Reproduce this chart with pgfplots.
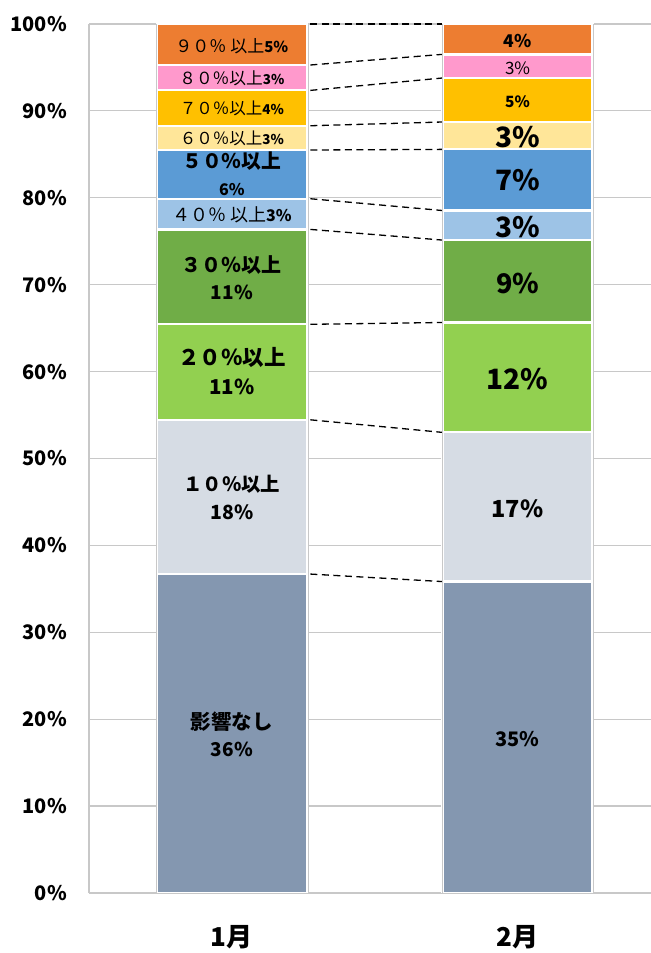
\documentclass[border=0pt]{standalone}
\usepackage{fontspec}
\setmainfont{Noto Sans CJK JP}
\usepackage{pgfplots}
\pgfplotsset{compat=1.18}
\newcommand\fs[1]{\fontsize{#1bp}{#1bp}\selectfont}
\definecolor{c0}{HTML}{8497B0}
\definecolor{c1}{HTML}{D6DCE4}
\definecolor{c2}{HTML}{92D050}
\definecolor{c3}{HTML}{70AD47}
\definecolor{c4}{HTML}{9DC3E6}
\definecolor{c5}{HTML}{5B9BD5}
\definecolor{c6}{HTML}{FFE699}
\definecolor{c7}{HTML}{FFC000}
\definecolor{c8}{HTML}{FF99CC}
\definecolor{c9}{HTML}{ED7D31}
\definecolor{gridc}{HTML}{C8C8C8}
\begin{document}
\begin{tikzpicture}
\useasboundingbox (0,0) rectangle (651bp,953bp);
\pgfplotsset{base/.style={at={(89bp,60bp)}, anchor=south west, scale only axis,
  width=562bp, height=869bp, xmin=-0.5, xmax=1.467, ymin=0, ymax=100},
  conn/.style={draw=black, no marks, solid, line width=1.3bp, dash pattern=on 7bp off 4.5bp},
  outl/.style={draw=gridc, no marks, solid, line width=1bp}}
\begin{axis}[base, ybar stacked, bar width=150bp,
  axis x line*=bottom, axis y line*=left,
  axis line style={-, draw=gridc, line width=1.2bp},
  ymajorgrids, grid style={draw=gridc, line width=1.2bp},
  ytick={0,10,...,100}, xtick={0,1}, xticklabels={1月,2月},
  major tick length=0pt,
  /pgf/number format/assume math mode=true,
  yticklabel={\pgfmathprintnumber{\tick}\%},
  yticklabel style={font=\bfseries\fs{20}, inner sep=0pt, anchor=east, xshift=-22bp},
  xticklabel style={font=\bfseries\fs{26}, inner sep=0pt, anchor=center, yshift=-44bp},
  every axis plot/.append style={draw=white, line width=2.2bp}]
\addplot[fill=c0] coordinates {(0,36.70) (1,35.84)};
\addplot[fill=c1] coordinates {(0,17.75) (1,17.17)};
\addplot[fill=c2] coordinates {(0,10.99) (1,12.64)};
\addplot[fill=c3] coordinates {(0,10.92) (1,9.49)};
\addplot[fill=c4] coordinates {(0,3.53) (1,3.40)};
\addplot[fill=c5] coordinates {(0,5.61) (1,7.03)};
\addplot[fill=c6] coordinates {(0,2.79) (1,3.15)};
\addplot[fill=c7] coordinates {(0,4.07) (1,5.06)};
\addplot[fill=c8] coordinates {(0,2.92) (1,2.72)};
\addplot[fill=c9] coordinates {(0,4.72) (1,3.50)};
\end{axis}
\begin{axis}[base, hide axis, clip=false]
% bar outlines
\addplot[outl] coordinates {(-0.265,0) (-0.265,100)};
\addplot[outl] coordinates {(0.2675,0) (0.2675,100)};
\addplot[outl] coordinates {(0.736,0) (0.736,100)};
\addplot[outl] coordinates {(1.264,0) (1.264,100)};
% connectors
\addplot[conn] coordinates {(0.275,36.70) (0.735,35.84)};
\addplot[conn] coordinates {(0.275,54.45) (0.735,53.01)};
\addplot[conn] coordinates {(0.275,65.44) (0.735,65.65)};
\addplot[conn] coordinates {(0.275,76.36) (0.735,75.14)};
\addplot[conn] coordinates {(0.275,79.89) (0.735,78.54)};
\addplot[conn] coordinates {(0.275,85.50) (0.735,85.57)};
\addplot[conn] coordinates {(0.275,88.29) (0.735,88.72)};
\addplot[conn] coordinates {(0.275,92.36) (0.735,93.78)};
\addplot[conn] coordinates {(0.275,95.28) (0.735,96.50)};
\addplot[conn] coordinates {(0.275,100) (0.735,100)};
% labels 1月
\node[font=\fs{17}] at (axis cs:0,97.49) {９０％ 以上{\bfseries\fs{15}5\%}};
\node[font=\fs{16.7}] at (axis cs:0,93.78) {８０％以上{\bfseries\fs{13.5}3\%}};
\node[font=\fs{16.5}] at (axis cs:0,90.25) {７０％以上{\bfseries\fs{13.5}4\%}};
\node[font=\fs{16.5}] at (axis cs:0,86.80) {６０％以上{\bfseries\fs{13.5}3\%}};
\node[font=\bfseries\fs{19.8}] at (axis cs:0,84.18) {５０％以上};
\node[font=\bfseries\fs{16}] at (axis cs:0,80.93) {6\%};
\node[font=\fs{18}] at (axis cs:0,78.05) {４０％ 以上{\bfseries\fs{16}3\%}};
\node[font=\bfseries\fs{20}] at (axis cs:0,72.29) {３０％以上};
\node[font=\bfseries\fs{19}] at (axis cs:0,69.10) {11\%};
\node[font=\bfseries\fs{21.5}] at (axis cs:0,61.62) {２０％以上};
\node[font=\bfseries\fs{20.5}] at (axis cs:0,58.21) {11\%};
\node[font=\bfseries\fs{19.4}] at (axis cs:0,47.08) {１０％以上};
\node[font=\bfseries\fs{19.5}] at (axis cs:0,43.78) {18\%};
\node[font=\bfseries\fs{20.5}] at (axis cs:0,19.72) {影響なし};
\node[font=\bfseries\fs{19}] at (axis cs:0,16.54) {36\%};
% labels 2月
\node[font=\bfseries\fs{17.5}] at (axis cs:1,98.08) {4\%};
\node[font=\fs{17}] at (axis cs:1,94.93) {3\%};
\node[font=\bfseries\fs{15.5}] at (axis cs:1,91.09) {5\%};
\node[font=\bfseries\fs{28}] at (axis cs:1,87.03) {3\%};
\node[font=\bfseries\fs{28}] at (axis cs:1,82.0) {7\%};
\node[font=\bfseries\fs{28}] at (axis cs:1,76.67) {3\%};
\node[font=\bfseries\fs{27}] at (axis cs:1,70.19) {9\%};
\node[font=\bfseries\fs{28}] at (axis cs:1,59.17) {12\%};
\node[font=\bfseries\fs{23.5}] at (axis cs:1,44.24) {17\%};
\node[font=\bfseries\fs{20}] at (axis cs:1,17.69) {35\%};
\end{axis}
\end{tikzpicture}
\end{document}
